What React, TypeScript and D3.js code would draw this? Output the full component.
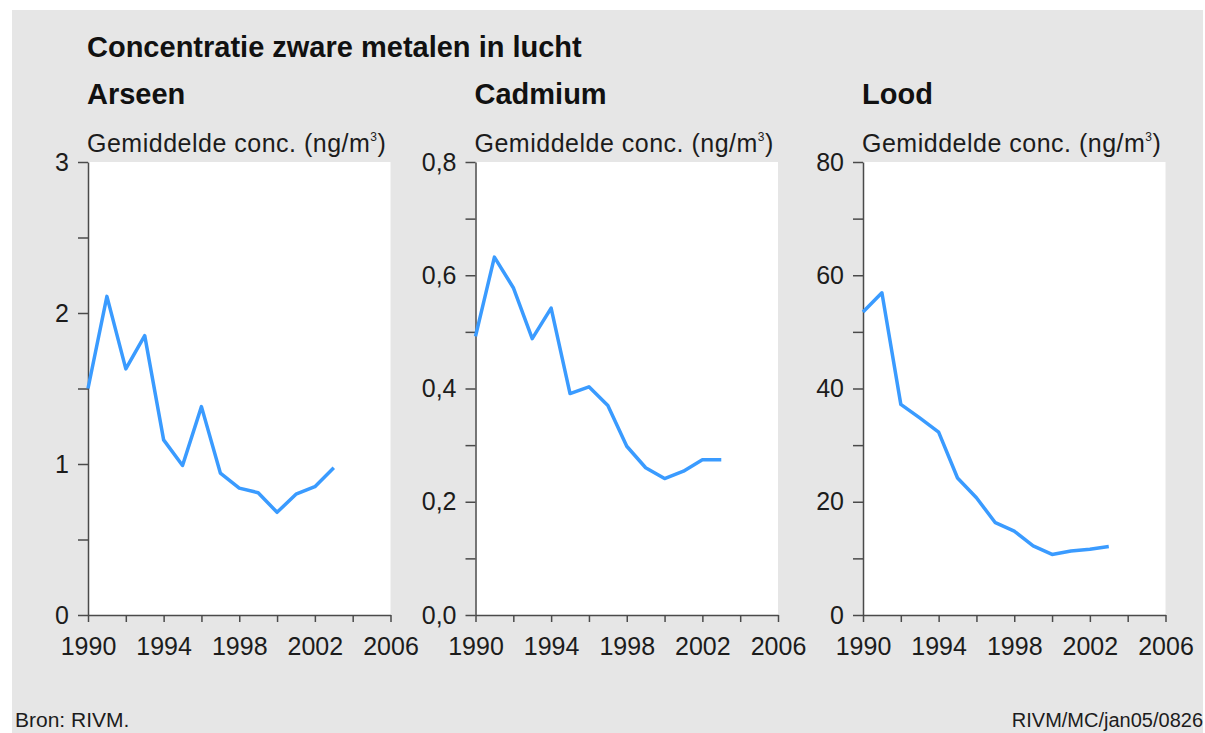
import { useEffect, useRef } from "react";
import * as d3 from "d3";

const years = [1990, 1991, 1992, 1993, 1994, 1995, 1996, 1997, 1998, 1999, 2000, 2001, 2002, 2003];
const arseen = [1.5, 2.11, 1.63, 1.85, 1.16, 0.99, 1.38, 0.94, 0.84, 0.81, 0.68, 0.8, 0.85, 0.975];
const cadmium = [0.492, 0.632, 0.578, 0.488, 0.542, 0.391, 0.403, 0.37, 0.298, 0.26, 0.241, 0.254, 0.274, 0.274];
const lood = [53.5, 56.9, 37.2, 34.8, 32.3, 24.2, 20.7, 16.3, 14.8, 12.2, 10.7, 11.3, 11.6, 12.1];

const xTicks = [1990, 1992, 1994, 1996, 1998, 2000, 2002, 2004, 2006];
const xLabels = [1990, 1994, 1998, 2002, 2006];

const panels = [
  { name: "Arseen", values: arseen, max: 3, ticks: [0, 0.5, 1, 1.5, 2, 2.5, 3], labels: [0, 1, 2, 3], fmt: (v: number) => `${v}` },
  {
    name: "Cadmium",
    values: cadmium,
    max: 0.8,
    ticks: [0, 0.1, 0.2, 0.3, 0.4, 0.5, 0.6, 0.7, 0.8],
    labels: [0, 0.2, 0.4, 0.6, 0.8],
    fmt: (v: number) => v.toFixed(1).replace(".", ",")
  },
  { name: "Lood", values: lood, max: 80, ticks: [0, 10, 20, 30, 40, 50, 60, 70, 80], labels: [0, 20, 40, 60, 80], fmt: (v: number) => `${v}` }
];

const FONT = "'Liberation Sans', Arial, Helvetica, sans-serif";
const TEXT = "#1c1c1c";
const AXIS = "#4a4a4a";
const BLUE = "#3a9bff";

export default function App() {
  const svgRef = useRef<SVGSVGElement>(null);

  useEffect(() => {
    if (!svgRef.current) return;
    const width = 1205;
    const height = 733;
    const top = 162;
    const bottom = 615;
    const plotW = 302.5;
    const step = 387.5;
    const firstLeft = 88;

    const svg = d3.select(svgRef.current);
    svg.selectAll("*").remove();
    svg.attr("viewBox", `0 0 ${width} ${height}`).attr("font-family", FONT);

    svg.append("rect").attr("x", 0).attr("y", 0).attr("width", width).attr("height", height).attr("fill", "#ffffff");
    svg.append("rect").attr("x", 12).attr("y", 10).attr("width", 1191).attr("height", 723).attr("fill", "#e6e6e6");

    svg.append("text")
      .attr("x", 87)
      .attr("y", 57)
      .attr("font-size", 29)
      .attr("font-weight", "bold")
      .attr("fill", "#111")
      .text("Concentratie zware metalen in lucht");

    const x = d3.scaleLinear().domain([1990, 2006]);

    panels.forEach((p, i) => {
      const left = firstLeft + i * step;
      x.range([left, left + plotW]);
      const y = d3.scaleLinear().domain([0, p.max]).range([bottom, top]);

      svg.append("text")
        .attr("x", left - 1)
        .attr("y", 104)
        .attr("font-size", 29)
        .attr("font-weight", "bold")
        .attr("fill", "#111")
        .text(p.name);

      const unit = svg.append("text")
        .attr("x", left - 1)
        .attr("y", 152)
        .attr("font-size", 25)
        .attr("letter-spacing", 0.5)
        .attr("fill", TEXT);
      unit.append("tspan").text("Gemiddelde conc. (ng/m");
      unit.append("tspan").attr("font-size", 12).attr("dy", -11).text("3");
      unit.append("tspan").attr("dy", 11).text(")");

      svg.append("rect")
        .attr("x", left)
        .attr("y", top)
        .attr("width", plotW)
        .attr("height", bottom - top)
        .attr("fill", "#ffffff");

      const yAxis = svg.append("g")
        .attr("transform", `translate(${left},0)`)
        .call(
          d3.axisLeft(y)
            .tickValues(p.ticks)
            .tickSize(10)
            .tickSizeOuter(0)
            .tickPadding(9)
            .tickFormat((v) => (p.labels.some((l) => Math.abs(l - +v) < 1e-9) ? p.fmt(+v) : ""))
        );
      yAxis.selectAll("line,path").attr("stroke", AXIS).attr("stroke-width", 1.5);
      yAxis.selectAll("text").attr("font-size", 25).attr("fill", TEXT).attr("font-family", FONT);

      const xAxis = svg.append("g")
        .attr("transform", `translate(0,${bottom})`)
        .call(
          d3.axisBottom(x.copy())
            .tickValues(xTicks)
            .tickSize(7)
            .tickSizeOuter(0)
            .tickPadding(15)
            .tickFormat((v) => (xLabels.includes(+v) ? `${v}` : ""))
        );
      xAxis.selectAll("line,path").attr("stroke", AXIS).attr("stroke-width", 1.5);
      xAxis.selectAll("text").attr("font-size", 25).attr("fill", TEXT).attr("font-family", FONT);

      const xs = x.copy();
      const line = d3
        .line<number>()
        .x((_, j) => xs(years[j]))
        .y((d) => y(d));

      svg.append("path")
        .datum(p.values)
        .attr("fill", "none")
        .attr("stroke", BLUE)
        .attr("stroke-width", 3.5)
        .attr("stroke-linejoin", "round")
        .attr("d", line);
    });

    svg.append("text")
      .attr("x", 15)
      .attr("y", 727)
      .attr("font-size", 21)
      .attr("fill", TEXT)
      .text("Bron: RIVM.");

    svg.append("text")
      .attr("x", 1203)
      .attr("y", 727)
      .attr("text-anchor", "end")
      .attr("font-size", 20)
      .attr("fill", TEXT)
      .text("RIVM/MC/jan05/0826");
  }, []);

  return (
    <svg
      ref={svgRef}
      width={1205}
      height={733}
      style={{ position: "absolute", left: 0, top: 0, display: "block" }}
    />
  );
}
